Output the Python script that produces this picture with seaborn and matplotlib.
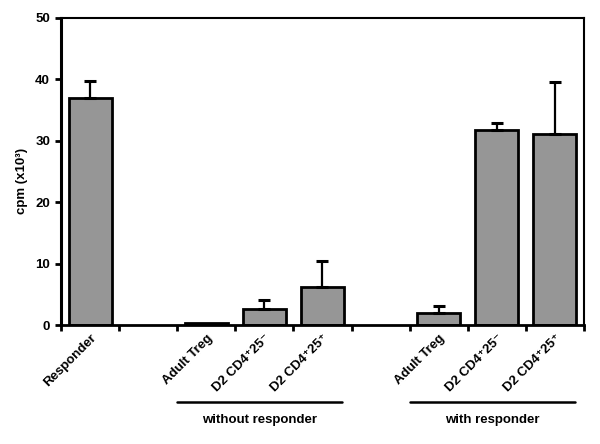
import numpy as np
import pandas as pd
import seaborn as sns
import matplotlib
matplotlib.use("Agg")
import matplotlib.pyplot as plt

# --------- Data ---------
slots = ["resp", "gap1", "wo_treg", "wo_m", "wo_p", "gap2", "w_treg", "w_m", "w_p"]
labels = ["Responder", "", "Adult Treg", "D2 CD4\u207a25\u207b", "D2 CD4\u207a25\u207a",
          "", "Adult Treg", "D2 CD4\u207a25\u207b", "D2 CD4\u207a25\u207a"]
values = [36.9, 0, 0.3, 2.6, 6.2, 0, 2.0, 31.8, 31.1]
errors = [2.8, 0, 0, 1.4, 4.2, 0, 1.1, 1.0, 8.5]
has_bar = [True, False, True, True, True, False, True, True, True]
groups = ["without responder", "with responder"]
group_spans = [(2, 4), (6, 8)]

df = pd.DataFrame({"slot": slots, "cpm": values})

# --------- Plot ---------
sns.set_style("white")
plt.rcParams["font.family"] = ["Liberation Sans", "DejaVu Sans"]
plt.rcParams["text.color"] = "black"
plt.rcParams["axes.labelcolor"] = "black"
plt.rcParams["xtick.color"] = "black"
plt.rcParams["ytick.color"] = "black"

fig = plt.figure(figsize=(6, 4.44), dpi=100)
ax = fig.add_axes([0.102, 0.268, 0.871, 0.692])

sns.barplot(data=df, x="slot", y="cpm", order=slots, color="#969696",
            edgecolor="black", linewidth=2, width=0.74, saturation=1, ax=ax)

# hide the empty slots' zero-height patches
for patch, keep in zip(ax.patches, has_bar):
    patch.set_visible(keep)

xs = np.arange(len(slots))
for x, v, e, keep in zip(xs, values, errors, has_bar):
    if keep and e > 0:
        ax.errorbar(x, v, yerr=[[0], [e]], fmt="none", ecolor="black",
                    elinewidth=1.6, capsize=4, capthick=2.2, zorder=1)

ax.set_xlim(-0.5, len(slots) - 0.5)
ax.set_ylim(0, 50)
ax.set_yticks([0, 10, 20, 30, 40, 50])
ax.set_ylabel("cpm (x10\u00b3)", fontsize=9.5, fontweight="bold")
ax.yaxis.set_label_coords(-0.063, 0.47)
ax.set_xlabel("")

# ticks at slot boundaries, labels at slot centres
ax.set_xticks(np.arange(len(slots) + 1) - 0.5)
ax.set_xticklabels([])
ax.set_xticks(xs, minor=True)
ax.set_xticklabels(labels, minor=True, rotation=45, ha="right",
                   rotation_mode="anchor", fontsize=9.5, fontweight="bold")
ax.tick_params(axis="x", which="major", direction="out", length=4, width=2,
               color="black", bottom=True)
ax.tick_params(axis="x", which="minor", length=0, pad=5)
ax.tick_params(axis="y", direction="out", length=4, width=2, color="black",
               left=True, labelsize=9.5, pad=4)
for t in ax.get_yticklabels():
    t.set_fontweight("bold")

for side in ["left", "bottom", "top", "right"]:
    ax.spines[side].set_visible(True)
    ax.spines[side].set_color("black")
ax.spines["left"].set_linewidth(2.2)
ax.spines["bottom"].set_linewidth(2)
ax.spines["top"].set_linewidth(1.5)
ax.spines["right"].set_linewidth(1.5)

# group brackets under the labels
trans = ax.get_xaxis_transform()
for name, (a, b) in zip(groups, group_spans):
    ax.plot([a - 0.5, b + 0.34], [-0.25, -0.25], color="black", lw=1.8,
            transform=trans, clip_on=False)
    ax.text((a - 0.5 + b + 0.34) / 2, -0.31, name, transform=trans,
            ha="center", va="center", fontsize=9.5, fontweight="bold")

fig.savefig("out.png", dpi=100)
